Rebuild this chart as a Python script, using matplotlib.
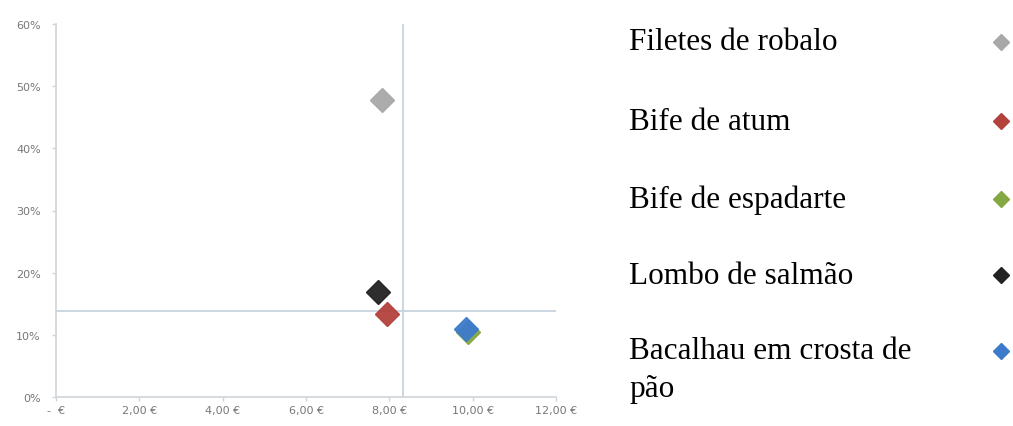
import matplotlib
matplotlib.use("Agg")
import matplotlib.pyplot as plt
from matplotlib.lines import Line2D

# Data
products = ["Filetes de robalo", "Bife de atum", "Bife de espadarte",
            "Lombo de salmão", "Bacalhau em crosta de\npão"]
prices = [7.82, 7.94, 9.88, 7.73, 9.83]          # €
margins = [0.477, 0.133, 0.105, 0.169, 0.109]     # share
colors = ["#a8a8a8", "#b3413c", "#84a842", "#222222", "#3c7bcc"]

avg_price = 8.33
avg_margin = 0.138

x_ticks = [0, 2, 4, 6, 8, 10, 12]
x_labels = ["-  €", "2,00 €", "4,00 €", "6,00 €", "8,00 €", "10,00 €", "12,00 €"]
y_ticks = [0, 0.1, 0.2, 0.3, 0.4, 0.5, 0.6]
y_labels = ["0%", "10%", "20%", "30%", "40%", "50%", "60%"]

fig = plt.figure(figsize=(10.13, 4.27), dpi=100)
ax = fig.add_axes([56 / 1013, 29 / 427, 500 / 1013, 373 / 427])

ax.set_xlim(0, 12)
ax.set_ylim(0, 0.6)
ax.set_xticks(x_ticks)
ax.set_xticklabels(x_labels)
ax.set_yticks(y_ticks)
ax.set_yticklabels(y_labels)

for s in ["top", "right"]:
    ax.spines[s].set_visible(False)
for s in ["left", "bottom"]:
    ax.spines[s].set_color("#d0d4d8")
    ax.spines[s].set_linewidth(1.2)

ax.tick_params(axis="both", colors="#d0d4d8", length=3, width=1, direction="out",
               labelsize=8, labelcolor="#777777")
ax.tick_params(axis="x", pad=3)
ax.tick_params(axis="y", pad=8)

ax.axvline(avg_price, color="#c8d3de", lw=1.3, zorder=1)
ax.axhline(avg_margin, color="#c8d3de", lw=1.3, zorder=1)

for i in range(len(products)):
    ax.plot(prices[i], margins[i], marker="D", ms=12, color=colors[i],
            mec=colors[i], ls="none", zorder=3, alpha=0.95)

# Legend (manual, markers in a right-hand column)
row_y = [427 - 43, 427 - 122, 427 - 200, 427 - 276, 427 - 352]
for name, c, yy in zip(products, colors, row_y):
    lines = name.split("\n")
    fig.text(629 / 1013, yy / 427, lines[0], fontsize=22.5,
             family="Liberation Serif", ha="left", va="center")
    if len(lines) > 1:
        fig.text(629 / 1013, (yy - 38) / 427, lines[1], fontsize=22.5,
                 family="Liberation Serif", ha="left", va="center")
    fig.add_artist(Line2D([1001 / 1013], [yy / 427], marker="D", ms=8,
                          color=c, mec=c, ls="none", transform=fig.transFigure))

fig.savefig("out.png", dpi=100)
